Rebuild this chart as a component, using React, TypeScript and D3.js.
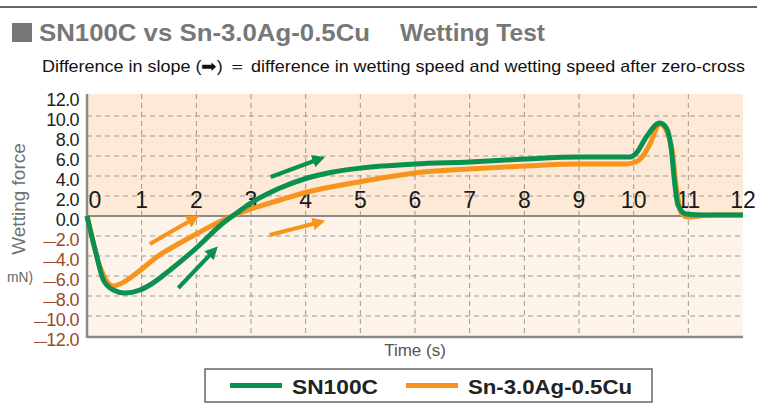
import { useEffect, useRef } from "react";
import * as d3 from "d3";

// wetting force (mN) vs time (s)
const snTime = [0, 0.15, 0.3, 0.48, 0.69, 0.97, 1.18, 1.52, 2.0, 2.49, 2.74, 3.0, 3.53, 4.03, 4.5, 5.02, 6.0, 7.0, 8.0, 9.0, 9.93, 10.05, 10.23, 10.48, 10.6, 10.69, 10.75, 10.81, 10.96, 11.3, 12];
const snForce = [0, -3.4, -6.4, -7.4, -7.7, -7.4, -6.8, -5.4, -3.2, -0.7, 0.3, 1.3, 2.8, 3.8, 4.4, 4.8, 5.2, 5.4, 5.7, 5.9, 5.9, 6.3, 7.9, 9.3, 8.8, 6.6, 3.3, 1.1, 0.2, 0.1, 0.1];

const sacTime = [0, 0.24, 0.48, 0.6, 0.91, 1.3, 1.7, 2.0, 2.49, 3.0, 3.53, 4.03, 5.02, 5.5, 6.0, 7.0, 8.0, 9.0, 9.87, 10.1, 10.29, 10.48, 10.69, 10.78, 10.87, 11.0, 11.4, 12];
const sacForce = [0, -5.1, -7.0, -6.8, -5.7, -4.0, -2.7, -1.8, -0.4, 0.7, 1.6, 2.4, 3.45, 3.9, 4.3, 4.7, 5.0, 5.2, 5.2, 5.6, 7.1, 9.2, 7.0, 2.9, 0.3, -0.1, 0.1, 0.1];

const xTicks = [0, 1, 2, 3, 4, 5, 6, 7, 8, 9, 10, 11, 12];
const yTicks = [12, 10, 8, 6, 4, 2, 0, -2, -4, -6, -8, -10, -12];

// slope arrows [t0, v0, t1, v1]
const greenArrows = [
  [3.36, 3.9, 4.2, 5.6],
  [1.67, -7.2, 2.28, -3.7],
];
const orangeArrows = [
  [1.15, -2.8, 1.91, -0.4],
  [3.34, -1.9, 4.2, -0.7],
];

const GREEN = "#0a9150";
const ORANGE = "#f7941d";
const FONT = "Liberation Sans, Arial, sans-serif";

export default function App() {
  const ref = useRef<SVGSVGElement>(null);
  const width = 757;
  const height = 413;

  useEffect(() => {
    if (!ref.current) return;
    const svg = d3.select(ref.current);
    svg.selectAll("*").remove();

    const left = 87, right = 743, top = 96, bottom = 336;
    const x = d3.scaleLinear().domain([0, 12]).range([left, right]);
    const y = d3.scaleLinear().domain([-12, 12]).range([bottom, top]);

    // header
    svg.append("line").attr("x1", 0).attr("x2", width).attr("y1", 7).attr("y2", 7)
      .attr("stroke", "#333").attr("stroke-width", 1.5);
    svg.append("rect").attr("x", 12).attr("y", 23).attr("width", 20).attr("height", 19).attr("fill", "#777");
    svg.append("text").attr("x", 39).attr("y", 41)
      .attr("font-family", FONT).attr("font-weight", "bold")
      .attr("font-size", 24).attr("fill", "#777")
      .attr("textLength", 331).attr("lengthAdjust", "spacingAndGlyphs")
      .text("SN100C vs Sn-3.0Ag-0.5Cu");
    svg.append("text").attr("x", 400).attr("y", 41)
      .attr("font-family", FONT).attr("font-weight", "bold")
      .attr("font-size", 24).attr("fill", "#777")
      .attr("textLength", 145).attr("lengthAdjust", "spacingAndGlyphs")
      .text("Wetting Test");
    svg.append("text").attr("x", 42).attr("y", 72)
      .attr("font-family", FONT)
      .attr("font-size", 16.5).attr("fill", "#111")
      .attr("textLength", 703).attr("lengthAdjust", "spacingAndGlyphs")
      .text("Difference in slope (\u27a1) \uff1d difference in wetting speed and wetting speed after zero-cross");

    // plot background
    svg.append("rect").attr("x", left).attr("y", top - 2).attr("width", right - left)
      .attr("height", y(0) - top + 2).attr("fill", "#fde9d5");
    svg.append("rect").attr("x", left).attr("y", y(0)).attr("width", right - left)
      .attr("height", bottom - y(0)).attr("fill", "#fef3e9");

    // grid
    const grid = svg.append("g").attr("stroke", "#999").attr("stroke-width", 1)
      .attr("stroke-dasharray", "5,4");
    grid.selectAll("line.v").data(xTicks.filter((d) => d > 0 && d < 12)).join("line")
      .attr("class", "v")
      .attr("x1", (d) => x(d)).attr("x2", (d) => x(d))
      .attr("y1", top - 2).attr("y2", bottom);
    grid.selectAll("line.h").data(yTicks.filter((d) => d !== 0 && Math.abs(d) < 12)).join("line")
      .attr("class", "h")
      .attr("x1", left).attr("x2", right)
      .attr("y1", (d) => y(d)).attr("y2", (d) => y(d));

    // axis lines
    svg.append("line").attr("x1", left).attr("x2", right).attr("y1", y(0)).attr("y2", y(0))
      .attr("stroke", "#8a8a8a").attr("stroke-width", 2);
    svg.append("line").attr("x1", left).attr("x2", left).attr("y1", top - 2).attr("y2", bottom + 2)
      .attr("stroke", "#8a8a8a").attr("stroke-width", 2.5);
    svg.append("line").attr("x1", left).attr("x2", right).attr("y1", bottom + 1).attr("y2", bottom + 1)
      .attr("stroke", "#8a8a8a").attr("stroke-width", 2.5);

    // y tick labels
    const yl = svg.append("g").selectAll("text").data(yTicks).join("text")
      .attr("x", 79).attr("y", (d) => y(d) + 10)
      .attr("text-anchor", "end")
      .attr("font-family", FONT)
      .attr("font-size", 18).attr("letter-spacing", -0.6)
      .attr("fill", (d) => (d < 0 ? "#9a4a2a" : "#222"));
    yl.filter((d) => d < 0).append("tspan").attr("font-size", 13).attr("dx", 0).text("\u2014");
    yl.append("tspan").text((d) => Math.abs(d).toFixed(1));

    // x tick labels inside plot
    svg.append("g").selectAll("text").data(xTicks).join("text")
      .attr("x", (d) => (d === 0 ? x(d) + 8 : x(d)))
      .attr("y", y(0) - 8)
      .attr("text-anchor", "middle")
      .attr("font-family", FONT)
      .attr("font-size", 23).attr("fill", "#1a1a1a")
      .text((d) => d);

    // axis titles
    svg.append("text").attr("transform", `translate(25,199) rotate(-90)`)
      .attr("text-anchor", "middle")
      .attr("font-family", FONT)
      .attr("font-size", 19).attr("fill", "#707070")
      .text("Wetting force");
    svg.append("text").attr("x", 7).attr("y", 282)
      .attr("font-family", FONT)
      .attr("font-size", 14).attr("fill", "#666")
      .attr("textLength", 26).attr("lengthAdjust", "spacingAndGlyphs")
      .text("mN)");
    svg.append("text").attr("x", 415).attr("y", 356)
      .attr("text-anchor", "middle")
      .attr("font-family", FONT)
      .attr("font-size", 17).attr("fill", "#555")
      .text("Time (s)");

    // arrows
    const defs = svg.append("defs");
    [["g", GREEN], ["o", ORANGE]].forEach(([id, c]) => {
      defs.append("marker").attr("id", "ah-" + id)
        .attr("viewBox", "0 0 10 10").attr("refX", 3).attr("refY", 5)
        .attr("markerWidth", 3.2).attr("markerHeight", 3.2).attr("orient", "auto")
        .append("path").attr("d", "M0,0L10,5L0,10Z").attr("fill", c);
    });
    const drawArrows = (data: number[][], color: string, id: string) => {
      svg.append("g").selectAll("line").data(data).join("line")
        .attr("x1", (d) => x(d[0])).attr("y1", (d) => y(d[1]))
        .attr("x2", (d) => x(d[2])).attr("y2", (d) => y(d[3]))
        .attr("stroke", color).attr("stroke-width", 4)
        .attr("marker-end", `url(#ah-${id})`);
    };
    drawArrows(greenArrows, GREEN, "g");
    drawArrows(orangeArrows, ORANGE, "o");

    // curves
    const line = d3.line<[number, number]>()
      .x((d) => x(d[0])).y((d) => y(d[1]))
      .curve(d3.curveMonotoneX);
    const sac = sacTime.map((t, i) => [t, sacForce[i]] as [number, number]);
    const sn = snTime.map((t, i) => [t, snForce[i]] as [number, number]);
    svg.append("path").attr("d", line(sac)).attr("fill", "none")
      .attr("stroke", ORANGE).attr("stroke-width", 5).attr("stroke-linejoin", "round");
    svg.append("path").attr("d", line(sn)).attr("fill", "none")
      .attr("stroke", GREEN).attr("stroke-width", 5).attr("stroke-linejoin", "round");

    // legend
    const lg = svg.append("g");
    lg.append("rect").attr("x", 205).attr("y", 369).attr("width", 447).attr("height", 33)
      .attr("fill", "#fff").attr("stroke", "#666").attr("stroke-width", 1.5);
    const items: [string, string, number, number][] = [["SN100C", GREEN, 230, 86], ["Sn-3.0Ag-0.5Cu", ORANGE, 406, 164]];
    items.forEach(([name, color, lx, tl]) => {
      lg.append("line").attr("x1", lx).attr("x2", lx + 52).attr("y1", 385.5).attr("y2", 385.5)
        .attr("stroke", color).attr("stroke-width", 5);
      lg.append("text").attr("x", lx + 62).attr("y", 393.5)
        .attr("font-family", FONT).attr("font-weight", "bold")
        .attr("font-size", 21).attr("fill", "#222")
        .attr("textLength", tl).attr("lengthAdjust", "spacingAndGlyphs")
        .text(name);
    });
  }, []);

  return (
    <svg ref={ref} width={width} height={height}
      style={{ position: "absolute", left: 0, top: 0, background: "#fff" }} />
  );
}
